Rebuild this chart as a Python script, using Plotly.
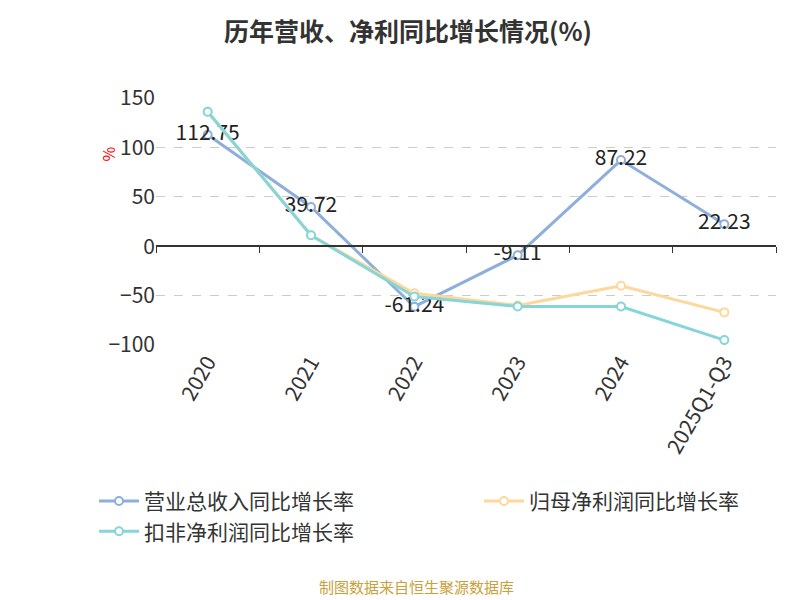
import plotly.graph_objects as go

categories = ["2020", "2021", "2022", "2023", "2024", "2025Q1-Q3"]
revenue_growth = [112.75, 39.72, -61.24, -9.11, 87.22, 22.23]
net_profit_growth = [136, 11, -47.6, -60, -40, -67]
deducted_profit_growth = [136, 11, -51, -61, -61, -95]
y_ticks = [-100, -50, 0, 50, 100, 150]

fig = go.Figure()
series = [
    ("营业总收入同比增长率", revenue_growth, "#8eaedb", True),
    ("归母净利润同比增长率", net_profit_growth, "#fdd89a", False),
    ("扣非净利润同比增长率", deducted_profit_growth, "#86d5d8", False),
]
for name, vals, color, labels in series:
    fig.add_trace(go.Scatter(
        x=categories, y=vals, name=name,
        mode="lines+markers+text" if labels else "lines+markers",
        text=[f"{v:.2f}" for v in vals] if labels else None,
        textposition="middle center",
        textfont=dict(size=21, color="#222"),
        line=dict(color=color, width=3),
        marker=dict(symbol="circle", size=8, color="white",
                    line=dict(color=color, width=2)),
    ))
fig.add_trace(go.Scatter(x=categories, y=[None]*6, xaxis="x2",
                         showlegend=False, hoverinfo="skip"))

fig.update_layout(
    width=800, height=600,
    paper_bgcolor="white", plot_bgcolor="white",
    font=dict(family="Noto Sans CJK SC, sans-serif", color="#333"),
    title=dict(text="<b>历年营收、净利同比增长情况(%)</b>", x=0.5, y=0.96,
               xanchor="center", yanchor="middle", font=dict(size=25, color="#333")),
    margin=dict(l=148, r=32, t=90, b=263, autoexpand=False),
    xaxis=dict(type="category", tickangle=-60, tickfont=dict(size=21, color="#333"),
               showline=False, ticks="", showgrid=False, range=[-0.5, 5.5]),
    xaxis2=dict(type="category", overlaying="x", anchor="free", position=0.4,
                showline=True, linecolor="#333", linewidth=1.5,
                ticks="outside", tickson="boundaries", ticklen=6,
                tickcolor="#333", showticklabels=False, showgrid=False,
                matches="x"),
    yaxis=dict(range=[-100, 150], tickvals=y_ticks, tickfont=dict(size=21, color="#333"),
               showgrid=True, gridcolor="#cccccc", griddash="dash",
               zeroline=False, showline=False),
    legend=dict(orientation="h", x=-0.1, y=-0.55, xanchor="left", yanchor="top",
                font=dict(size=21, color="#333"), entrywidth=330,
                itemwidth=40, traceorder="normal"),
    showlegend=True,
)
fig.add_annotation(text="%", xref="paper", yref="paper", x=-0.1, y=0.81,
                   textangle=-90, showarrow=False, font=dict(size=16, color="red"))
fig.add_annotation(text="制图数据来自恒生聚源数据库", xref="paper", yref="paper",
                   x=0.42, y=-1.03, showarrow=False,
                   font=dict(size=15, color="#c9a13b"))
fig.write_html("out.html")
